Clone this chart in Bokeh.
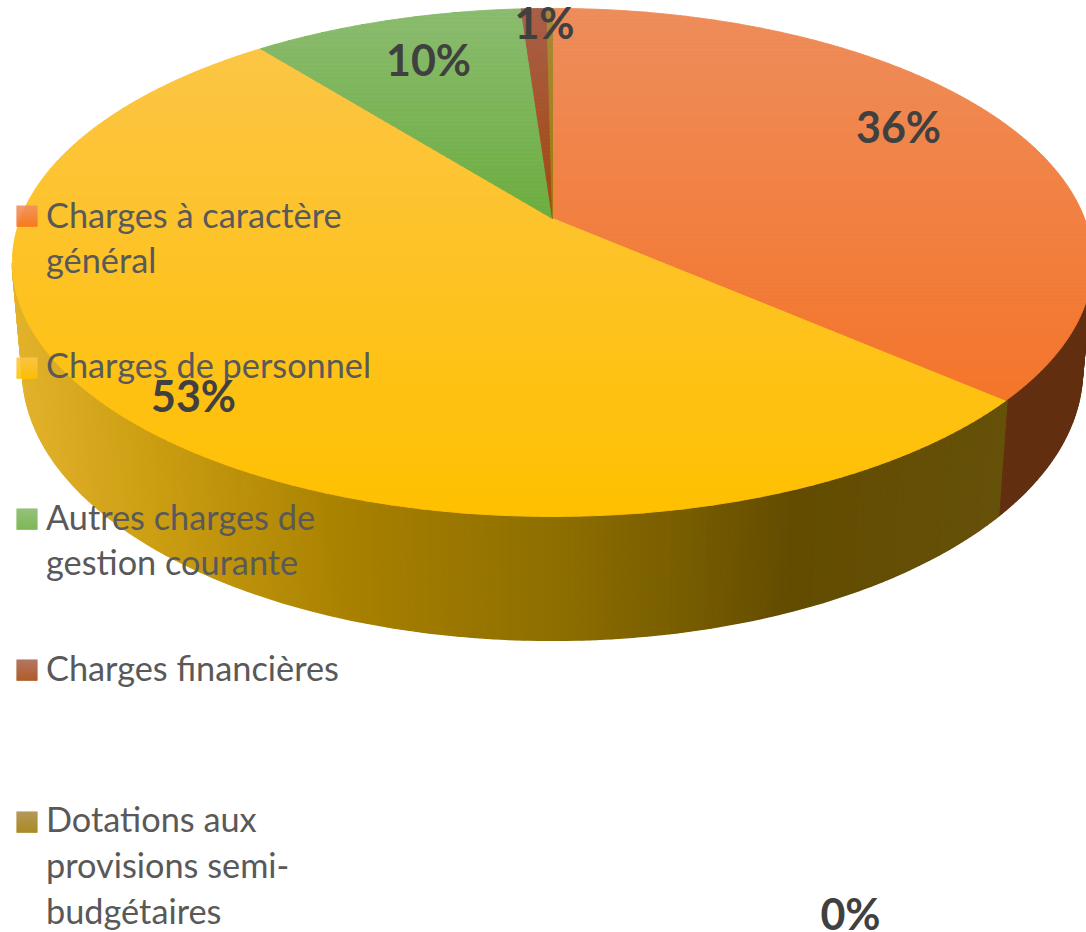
from math import sin, cos, pi
from bokeh.plotting import figure
from bokeh.core.properties import value
from bokeh.embed import file_html
from bokeh.resources import INLINE

# ---- data ----
categories = ["Charges à caractère général", "Charges de personnel",
              "Autres charges de gestion courante", "Charges financières",
              "Dotations aux provisions semi-budgétaires"]
shares = [36.4, 52.9, 9.6, 0.9, 0.2]
percent_labels = ["36%", "53%", "10%", "1%", "0%"]
legend_lines = [["Charges à caractère", "général"], ["Charges de personnel"],
                ["Autres charges de", "gestion courante"], ["Charges financières"],
                ["Dotations aux", "provisions semi-", "budgétaires"]]

# ---- style ----
top_light = ["#EE8D5B", "#FCC545", "#8ABB6E", "#A95F48", "#A88A3A"]
top_dark = ["#F4752A", "#FFC000", "#6BAD3E", "#A4490F", "#9E7A05"]
legend_top = ["#EF8F60", "#FDC648", "#86B868", "#A9624C", "#A88A42"]
legend_bottom = ["#F5711E", "#FFC000", "#6CAE3F", "#A5460A", "#A07A05"]
wall_orange = "#622F10"
wall_stops = [(12, "#E3B22C"), (150, "#CB9E12"), (350, "#A88000"), (550, "#8E6F00"),
              (700, "#755A00"), (790, "#634C00"), (1010, "#66510A")]
marker_tops = [205, 357, 508, 659, 811]
line_centers = [[214, 259], [364], [516, 561], [667], [818, 864, 910]]
label_x = [898, 193, 428, 544, 850]
label_y = [126, 395, 59, 22, 913]

# perspective discs of the projected pie (reference pixels)
CX, CY, A, B, K = 552, 218, 532, 246.4, 0.173
CY2, A2, B2 = 323, 522, 262


def rim(frac, cy=CY, a=A, b=B):
    th = 2 * pi * frac
    u, v = sin(th), -cos(th)
    w = 1 - K * v
    return CX + a * u / w, cy + b * v / w


def hex2rgb(h):
    return tuple(int(h[i:i + 2], 16) for i in (1, 3, 5))


def mix(c1, c2, t):
    t = max(0.0, min(1.0, t))
    a, b = hex2rgb(c1), hex2rgb(c2)
    return "#%02x%02x%02x" % tuple(round(a[i] + (b[i] - a[i]) * t) for i in range(3))


def clip(poly, y0, keep_below):
    out = []
    for i in range(len(poly)):
        p1, p2 = poly[i], poly[(i + 1) % len(poly)]
        in1 = (p1[1] >= y0) if keep_below else (p1[1] <= y0)
        in2 = (p2[1] >= y0) if keep_below else (p2[1] <= y0)
        if in1:
            out.append(p1)
        if in1 != in2:
            t = (y0 - p1[1]) / (p2[1] - p1[1])
            out.append((p1[0] + (p2[0] - p1[0]) * t, y0))
    return out


def wall_colour(x):
    for (x0, c0), (x1, c1) in zip(wall_stops, wall_stops[1:]):
        if x <= x1:
            return mix(c0, c1, (x - x0) / (x1 - x0))
    return wall_stops[-1][1]


p = figure(width=1086, height=932, x_range=(0, 1086), y_range=(932, 0),
           x_axis_type=None, y_axis_type=None, toolbar_location=None,
           output_backend="svg", min_border=0, outline_line_color=None,
           background_fill_color="white", border_fill_color="white")
p.grid.visible = False
p.styles = {"position": "absolute", "left": "0px", "top": "0px"}

total = sum(shares)
fr = [0.0]
for s in shares:
    fr.append(fr[-1] + s / total)

# side wall: the visible front part, seen between the two silhouette tangents
xs, ys, cs = [], [], []
N = 240
F0, F1 = 0.278, 0.722
for i in range(N):
    f0 = F0 + (F1 - F0) * i / N
    f1 = F0 + (F1 - F0) * (i + 1) / N
    a1, a2 = rim(f0), rim(f1)
    b1, b2 = rim(f0, CY2, A2, B2), rim(f1, CY2, A2, B2)
    xs.append([a1[0], a2[0], b2[0], b1[0]])
    ys.append([a1[1], a2[1], b2[1], b1[1]])
    cs.append(wall_orange if (f0 + f1) / 2 < fr[1] else wall_colour((a1[0] + a2[0]) / 2))
p.patches(xs, ys, fill_color=cs, line_color=cs, line_width=1.5)

# top face, each slice drawn as thin horizontal strips of its vertical gradient
xs, ys, cs = [], [], []
for k in range(len(shares)):
    n = max(18, int(shares[k] * 18))
    poly = [(CX, CY)] + [rim(fr[k] + (fr[k + 1] - fr[k]) * j / n) for j in range(n + 1)]
    ymin = min(q[1] for q in poly)
    ymax = max(q[1] for q in poly)
    y = ymin
    step = 4.0
    while y < ymax:
        part = clip(clip(poly, y, True), min(y + step, ymax), False)
        if len(part) >= 3:
            xs.append([q[0] for q in part])
            ys.append([q[1] for q in part])
            cs.append(mix(top_light[k], top_dark[k], (y - ymin) / (ymax - ymin)))
        y += step
p.patches(xs, ys, fill_color=cs, line_color=cs, line_width=1.0)

# legend
font = value("Lato")
for k in range(len(categories)):
    for j in range(21):
        t0 = marker_tops[k] + j
        p.quad(left=[16], right=[37], top=[t0], bottom=[t0 + 1.3], line_color=None,
               fill_color=mix(legend_top[k], legend_bottom[k], j / 20))
    lines = legend_lines[k]
    p.text([45.5] * len(lines), line_centers[k], text=lines, text_font=font,
           text_font_size="34.3px", text_color="#595959", text_baseline="middle",
           text_align="left")

# percentage labels
p.text(label_x, label_y, text=percent_labels, text_font=font, text_font_size="43px",
       text_font_style="bold", text_color="#404040", text_align="center",
       text_baseline="middle")

open("out.html", "w").write(file_html(p, INLINE))
